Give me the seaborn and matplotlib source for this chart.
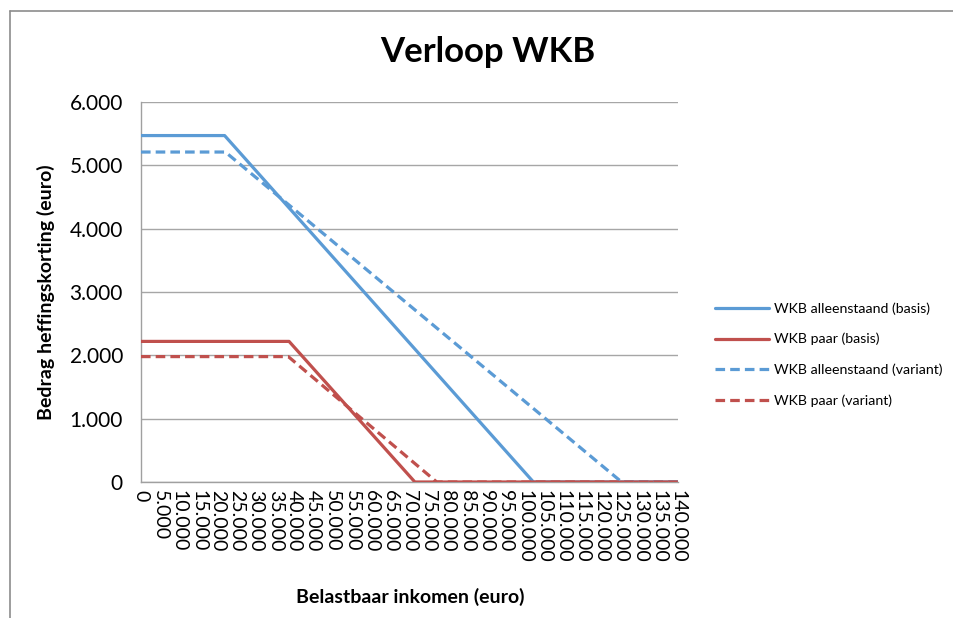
import numpy as np
import pandas as pd
import matplotlib.pyplot as plt
import seaborn as sns
from matplotlib.lines import Line2D

# breakpoints (inkomen in euro, korting in euro)
inkomen_alleen_basis = [0, 21800, 102300, 140000]
wkb_alleen_basis = [5470, 5470, 0, 0]
inkomen_paar_basis = [0, 38600, 71400, 140000]
wkb_paar_basis = [2220, 2220, 0, 0]
inkomen_alleen_variant = [0, 22000, 125300, 140000]
wkb_alleen_variant = [5210, 5210, 0, 0]
inkomen_paar_variant = [0, 38400, 77100, 140000]
wkb_paar_variant = [1980, 1980, 0, 0]

series = ['WKB alleenstaand (basis)', 'WKB paar (basis)',
          'WKB alleenstaand (variant)', 'WKB paar (variant)']
x_ticks = list(range(0, 140001, 5000))
y_ticks = list(range(0, 6001, 1000))

def nl(v):
    return f'{v:,.0f}'.replace(',', '.')

frames = []
for name, xs, ys in zip(series,
                        [inkomen_alleen_basis, inkomen_paar_basis, inkomen_alleen_variant, inkomen_paar_variant],
                        [wkb_alleen_basis, wkb_paar_basis, wkb_alleen_variant, wkb_paar_variant]):
    frames.append(pd.DataFrame({'inkomen': xs, 'wkb': ys, 'reeks': name}))
df = pd.concat(frames, ignore_index=True)

sns.set_style('white')
plt.rcParams['font.family'] = ['Lato', 'DejaVu Sans']
plt.rcParams['text.color'] = 'black'
plt.rcParams['xtick.color'] = 'black'
plt.rcParams['ytick.color'] = 'black'
plt.rcParams['axes.labelcolor'] = 'black'

blue = '#5B9BD5'
red = '#C0504D'
fig = plt.figure(figsize=(9.54, 6.18), dpi=100)
ax = fig.add_axes([141 / 954, 1 - 482 / 618, (678 - 141) / 954, (482 - 102) / 618])

sns.lineplot(df, x='inkomen', y='wkb', hue='reeks', style='reeks', hue_order=series,
             style_order=series,
             palette={series[0]: blue, series[1]: red, series[2]: blue, series[3]: red},
             dashes={series[0]: '', series[1]: '', series[2]: (3, 1.6), series[3]: (3, 1.6)},
             linewidth=2.3, ax=ax, zorder=3)

ax.set_xlim(0, 140000)
ax.set_ylim(0, 6000)
ax.set_xticks(x_ticks)
ax.set_xticklabels([nl(v) for v in x_ticks], rotation=-90, fontsize=14, va='top', ha='center')
ax.set_yticks(y_ticks)
ax.set_yticklabels([nl(v) for v in y_ticks], fontsize=15)
ax.tick_params(axis='y', length=7, color='#a0a0a0', pad=6)
ax.tick_params(axis='x', length=0, pad=6)
ax.yaxis.grid(True, color='#a6a6a6', linewidth=1)
ax.set_axisbelow(True)
for s in ['top', 'right']:
    ax.spines[s].set_visible(False)
for s in ['left', 'bottom']:
    ax.spines[s].set_color('#a0a0a0')
    ax.spines[s].set_linewidth(1)

ax.set_xlabel('Belastbaar inkomen (euro)', fontsize=14, fontweight='bold', labelpad=10)
ax.set_ylabel('Bedrag heffingskorting (euro)', fontsize=14, fontweight='bold', labelpad=8)
ax.xaxis.set_label_coords((410 - 141) / (678 - 141), -(588 - 482) / (482 - 102))
ax.yaxis.set_label_coords(-(141 - 55) / (678 - 141), (482 - 292) / (482 - 102))

fig.text(488 / 954, 1 - 52 / 618, 'Verloop WKB', fontsize=25, fontweight='bold',
         ha='center', va='center')

leg = ax.legend(loc='center left', bbox_to_anchor=(1.045, 0.335), frameon=False,
                fontsize=10.2, handlelength=3.8, labelspacing=1.3, handletextpad=0.4)

# chart frame
fig.add_artist(Line2D([10 / 954, 1], [1 - 11 / 618, 1 - 11 / 618], color='#8c8c8c', linewidth=1.2))
fig.add_artist(Line2D([10 / 954, 10 / 954], [0, 1 - 11 / 618], color='#8c8c8c', linewidth=1.2))

fig.savefig('out.png', dpi=100)
